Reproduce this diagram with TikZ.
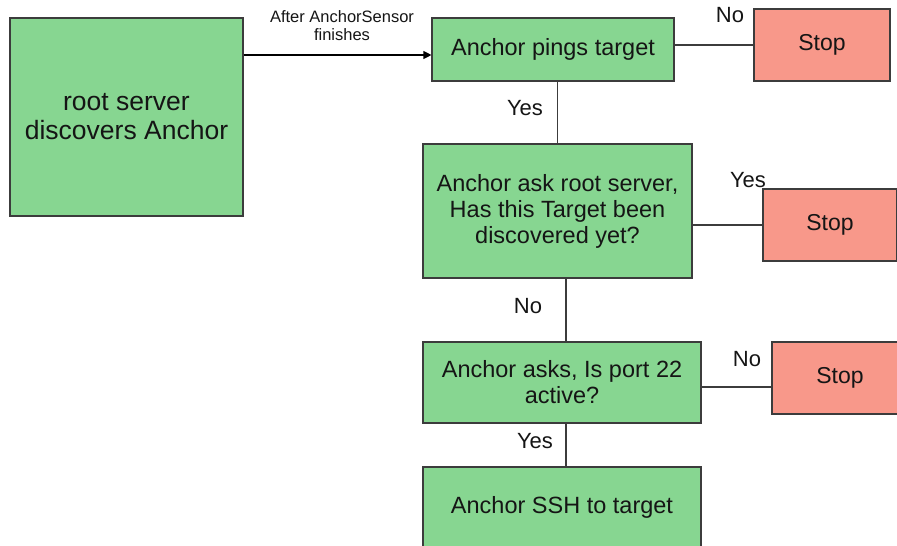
\documentclass[tikz,border=0pt]{standalone}
\usepackage{fontspec}
\setmainfont{Liberation Sans}
\usetikzlibrary{arrows.meta}
\definecolor{boxgreen}{HTML}{87D691}
\definecolor{stopred}{HTML}{F8988A}
\definecolor{edgegray}{HTML}{3C3C3C}
\definecolor{inktext}{HTML}{151515}
\begin{document}
\begin{tikzpicture}[x=1pt,y=-1pt,
  stepbox/.style={draw=edgegray, line width=1.1pt, fill=boxgreen, align=center,
    inner sep=0pt, text=inktext, font=\fontsize{23.5}{26}\selectfont},
  stopbox/.style={stepbox, fill=stopred, font=\fontsize{23}{26}\selectfont},
  link/.style={draw=edgegray, line width=1.1pt},
  arr/.style={draw=black, line width=1.1pt, -{Triangle[length=8pt,width=8pt]}},
  lbl/.style={text=inktext, inner sep=0pt, font=\fontsize{22}{24}\selectfont},
  small/.style={text=inktext, inner sep=0pt, align=center, font=\fontsize{16.5}{18}\selectfont}]
\clip (0,0) rectangle (897,546);
\fill[white] (0,0) rectangle (897,546);

% process steps
\node[stepbox, minimum width=233, minimum height=198, font=\fontsize{26.5}{29}\selectfont]
  (root) at (126.5,117) {root server\\discovers Anchor};
\node[stepbox, minimum width=242, minimum height=63] (pings) at (553,49.5) {Anchor pings target};
\node[stepbox, minimum width=269, minimum height=134] (ask) at (557.5,211)
  {Anchor ask root server,\\Has this Target been\\discovered yet?};
\node[stepbox, minimum width=278, minimum height=81] (port) at (562,382.5)
  {Anchor asks, Is port 22\\active?};
\node[stepbox, minimum width=278, minimum height=81] (ssh) at (562,507.5) {Anchor SSH to target};

% terminal boxes
\node[stopbox, minimum width=136, minimum height=72] (stopA) at (822,45) {Stop};
\node[stopbox, minimum width=134, minimum height=72] (stopB) at (830,225) {Stop};
\node[stopbox, minimum width=136, minimum height=72] (stopC) at (840,378) {Stop};

% helper points for the connectors
\coordinate (entry) at ([yshift=-5.5pt]pings.west);
\coordinate (vx) at (566,0);
\coordinate (hy) at (0,387);

% connectors
\draw[arr] (root.east |- entry) -- (entry);
\draw[link] (pings.east |- stopA.west) -- (stopA.west);
\draw[link] (ask.north |- pings.south) -- (ask.north);
\draw[link] (ask.east |- stopB.west) -- (stopB.west);
\draw[link] (vx |- ask.south) -- (vx |- port.north);
\draw[link] (port.east |- hy) -- (stopC.west |- hy);
\draw[link] (vx |- port.south) -- (vx |- ssh.north);

% connector labels
\node[small] (afterlbl) at (342,26) {After AnchorSensor\\finishes};
\node[lbl] (noA) at (730,15) {No};
\node[lbl] (yesA) at (525,108) {Yes};
\node[lbl] (yesB) at (748,180) {Yes};
\node[lbl] (noB) at (528,306) {No};
\node[lbl] (noC) at (747,359) {No};
\node[lbl] (yesC) at (535,441) {Yes};
\end{tikzpicture}
\end{document}
